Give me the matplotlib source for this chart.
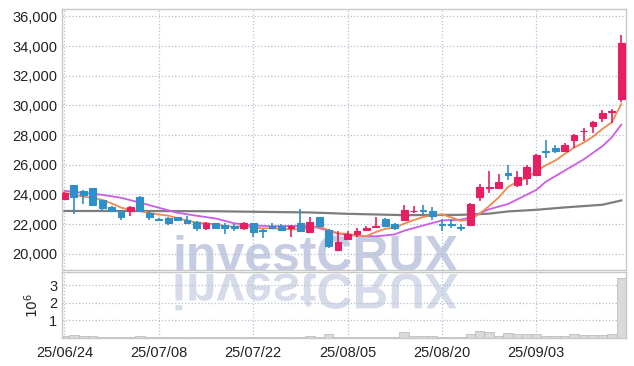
import numpy as np
import matplotlib
matplotlib.use("Agg")
import matplotlib.pyplot as plt
from matplotlib.textpath import TextPath
from matplotlib.patches import PathPatch
from matplotlib.font_manager import FontProperties
from matplotlib.transforms import Affine2D

plt.rcParams["font.family"] = ["Liberation Sans", "DejaVu Sans"]

# ==========================================================
# Data
# ==========================================================

tick_idx = [0, 10, 20, 30, 40, 50]
tick_labels = ["25/06/24", "25/07/08", "25/07/22", "25/08/05", "25/08/20", "25/09/03"]

opens = [
    23700, 24650, 24250, 24400, 23600, 23150, 22850, 22900, 23850, 22750,
    22350, 22400, 22450, 22300, 22150, 21700, 22050, 21950, 21900, 21700,
    22050, 21600, 21850, 21850, 21700, 22050, 21450, 22500, 21600, 20250,
    21000, 21300, 21600, 21800, 22350, 22000, 22250, 22850, 22950, 22900,
    22000, 22000, 21800, 21950, 23850, 24450, 24400, 25450, 24650, 25100,
    25300, 26900, 27100, 26950, 27650, 28250, 28600, 29150, 29550, 30400,
]
highs = [
    24150, 24650, 24300, 24450, 23650, 23200, 22900, 23200, 23900, 22800,
    22400, 22450, 22500, 22550, 22200, 22150, 22100, 22050, 22000, 22150,
    22100, 21650, 22100, 22000, 21950, 23000, 22450, 22500, 21650, 21550,
    21550, 21700, 21850, 22500, 22400, 22100, 23250, 23230, 23300, 23150,
    22350, 22350, 22000, 23400, 24700, 25550, 25400, 26000, 25600, 26000,
    26700, 27650, 27350, 27450, 28050, 28500, 28950, 29700, 29750, 34750,
]
lows = [
    23600, 22700, 23350, 23200, 22950, 22800, 22300, 22550, 22800, 22250,
    22250, 21950, 22200, 22000, 21550, 21600, 21650, 21300, 21550, 21600,
    21100, 21050, 21650, 21500, 21150, 21450, 21400, 21850, 20400, 20200,
    20950, 21100, 21550, 21750, 21850, 21600, 22200, 22750, 22650, 22250,
    21500, 21700, 21550, 21900, 23550, 24100, 24350, 25000, 24500, 24650,
    25250, 26450, 26800, 26900, 27100, 27600, 28150, 28850, 28800, 30250,
]
closes = [
    24100, 23850, 23950, 23250, 23050, 22850, 22450, 23150, 22850, 22450,
    22300, 22100, 22250, 22100, 21700, 22100, 21750, 21700, 21750, 22100,
    21450, 21550, 21700, 21600, 21900, 21500, 22150, 21900, 20500, 20800,
    21350, 21550, 21750, 21850, 21900, 21700, 22950, 22900, 22900, 22550,
    21950, 21950, 21750, 23350, 24500, 24500, 24850, 25300, 25150, 25850,
    26650, 26850, 26900, 27350, 28000, 28300, 28900, 29500, 29600, 34200,
]

# volume in millions of shares
volumes = [
    0.12, 0.18, 0.12, 0.13, 0.08, 0.06, 0.08, 0.06, 0.10, 0.07,
    0.05, 0.06, 0.05, 0.05, 0.07, 0.08, 0.05, 0.06, 0.04, 0.05,
    0.06, 0.07, 0.04, 0.06, 0.05, 0.07, 0.09, 0.07, 0.20, 0.08,
    0.06, 0.05, 0.07, 0.08, 0.05, 0.06, 0.32, 0.14, 0.13, 0.10,
    0.06, 0.05, 0.06, 0.20, 0.42, 0.36, 0.13, 0.28, 0.22, 0.20,
    0.23, 0.13, 0.10, 0.12, 0.23, 0.17, 0.17, 0.17, 0.25, 3.40,
]

# 5-day moving average (orange)
ma5 = [
    24100, 23980, 23850, 23750, 23640, 23390, 23110, 22950, 22870, 22750,
    22640, 22570, 22390, 22240, 22090, 22050, 21980, 21870, 21800, 21880,
    21750, 21710, 21710, 21680, 21640, 21650, 21770, 21810, 21590, 21370,
    21340, 21220, 21190, 21460, 21680, 21750, 22030, 22260, 22470, 22600,
    22650, 22450, 22220, 22310, 22700, 23210, 23790, 24500, 24860, 25130,
    25560, 25960, 26280, 26720, 27150, 27480, 27890, 28410, 28860, 30100,
]

# 10-day moving average (purple), sampled along the line
ma10_idx = [0, 4, 6, 8, 10, 12, 14, 16, 18, 20, 22, 24, 26, 27, 29, 31,
            33, 35, 36, 38, 40, 42, 43, 45, 47, 50, 51, 53, 55, 57, 58, 59]
ma10 = [24240, 23970, 23770, 23450, 23100, 22760, 22560, 22380, 22050,
        21900, 21850, 21870, 21840, 21730, 21350, 21210, 21170, 21300,
        21550, 21900, 22240, 22290, 22450, 23000, 23350, 24300, 24850,
        25600, 26350, 27250, 27850, 28700]

# long moving average (gray), sampled along the line
ma60_idx = [0, 8, 16, 26, 30, 36, 42, 45, 47, 50, 53, 57, 59]
ma60 = [22880, 22880, 22860, 22780, 22690, 22600, 22620, 22700, 22850,
        22960, 23120, 23300, 23590]

# ==========================================================
# Figure / Axes
# ==========================================================

RED = "#e81e64"
BLUE = "#2f8fc6"
GRID = "#b9bfd3"
SPINE = "#c8c8c8"
TEXT = "#222222"

fig = plt.figure(figsize=(6.34, 3.66), dpi=100)
fig.patch.set_facecolor("white")

ax = fig.add_axes([62 / 634, 1 - 270 / 366, 564 / 634, 261 / 366])
axv = fig.add_axes([62 / 634, 1 - 338 / 366, 564 / 634, 66 / 366], sharex=ax)

for a in (ax, axv):
    a.set_facecolor("none")
    for s in a.spines.values():
        s.set_color(SPINE)
        s.set_linewidth(1.0)
    a.grid(True, linestyle=":", color=GRID, linewidth=0.9)
    a.set_axisbelow(True)
    a.tick_params(length=0, labelsize=10.5, colors=TEXT)

# ==========================================================
# Watermark
# ==========================================================

wm_font = FontProperties(family=["Liberation Sans", "DejaVu Sans"], weight="bold")

fig.text(
    172 / 634,
    1 - 271 / 366,
    "investCRUX",
    fontproperties=wm_font,
    fontsize=36,
    color="#c6cde2",
    va="baseline",
    zorder=-1,
)

wm_path = TextPath((0, 0), "investCRUX", size=36, prop=wm_font)
wm_trans = Affine2D().scale(1 / 72, -1 / 72).translate(172 / 100, (366 - 274) / 100)
wm_patch = PathPatch(
    wm_path,
    facecolor="#d6dbea",
    edgecolor="none",
    transform=wm_trans + fig.dpi_scale_trans,
    zorder=-1,
)
fig.add_artist(wm_patch)

# ==========================================================
# Candles and Moving Averages
# ==========================================================

x = np.arange(len(closes))
o = np.array(opens)
c = np.array(closes)
colors = np.where(c >= o, RED, BLUE)

ax.plot(ma60_idx, ma60, color="#7d7d7d", linewidth=1.6, zorder=2)
ax.plot(ma10_idx, ma10, color="#cc5ce6", linewidth=1.3, zorder=2)
ax.plot(x, ma5, color="#ef8a4c", linewidth=1.3, zorder=2)

ax.vlines(x, lows, highs, colors=colors, linewidth=1.2, zorder=3)
ax.bar(
    x,
    np.abs(c - o),
    bottom=np.minimum(o, c),
    width=0.72,
    color=colors,
    edgecolor=colors,
    linewidth=0.8,
    zorder=4,
)

ax.set_xlim(-0.25, 59.5)
ax.set_ylim(18900, 36500)
ax.set_yticks(range(20000, 36001, 2000))
ax.set_yticklabels([f"{v:,}" for v in range(20000, 36001, 2000)])
ax.tick_params(axis="x", labelbottom=False)

# ==========================================================
# Volume
# ==========================================================

axv.bar(x, volumes, width=1.0, color="#dadada", edgecolor="#b4b4b4", linewidth=0.5, zorder=2)
axv.set_ylim(0, 3.77)
axv.set_yticks([1, 2, 3])
axv.set_yticklabels(["1", "2", "3"])
axv.set_ylabel(r"$10^6$", fontsize=10, color=TEXT, labelpad=6)
axv.set_xticks(tick_idx)
axv.set_xticklabels(tick_labels)
axv.tick_params(axis="x", pad=6)

fig.savefig("out.png", dpi=100, facecolor="white")
